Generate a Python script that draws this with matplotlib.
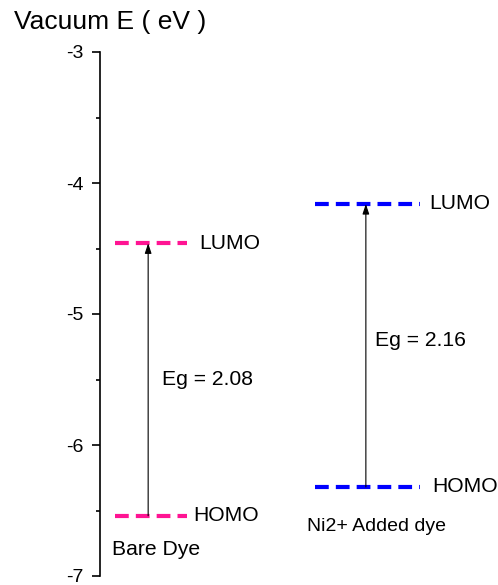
import numpy as np
import matplotlib.pyplot as plt
from matplotlib.ticker import MultipleLocator

plt.rcParams['font.family'] = ['Liberation Sans', 'DejaVu Sans']
plt.rcParams['axes.unicode_minus'] = False

# energy levels (eV vs vacuum)
dyes = ["Bare Dye", "Ni2+ Added dye"]
lumo = [-4.46, -4.16]
homo = [-6.54, -6.32]
gaps = [2.08, 2.16]
colors = ["#ff1493", "#0000ff"]

# horizontal extent of each level bar and arrow position (axis units)
x_start = [0.38, 5.40]
x_end = [2.19, 8.04]
x_arrow = [1.21, 6.68]

fs = 15.2

fig = plt.figure(figsize=(4.98, 5.85), dpi=100)
ax = fig.add_axes([100 / 498, 9 / 585, 398 / 498, 524 / 585])
ax.set_xlim(0, 10)
ax.set_ylim(-7, -3)

for i in range(len(dyes)):
    for e in (lumo[i], homo[i]):
        ax.plot([x_start[i], x_end[i]], [e, e], color=colors[i], lw=3,
                dashes=(3.3, 1.7), solid_capstyle='butt', dash_capstyle='butt')
    ax.annotate("", xy=(x_arrow[i], lumo[i]), xytext=(x_arrow[i], homo[i]),
                arrowprops=dict(arrowstyle='-|>,head_length=0.6,head_width=0.2',
                                color='black', lw=0.8, shrinkA=0, shrinkB=0))

# level labels
ax.text(x_end[0] + 0.3, lumo[0], "LUMO", fontsize=fs, va='center')
ax.text(x_end[0] + 0.15, homo[0], "HOMO", fontsize=fs, va='center')
ax.text(x_end[1] + 0.24, lumo[1], "LUMO", fontsize=fs, va='center')
ax.text(x_end[1] + 0.3, homo[1], "HOMO", fontsize=fs, va='center')

ax.text(0.3, -6.8, dyes[0], fontsize=fs, va='center')
ax.text(5.2, -6.62, dyes[1], fontsize=14, va='center')

ax.text(1.55, -5.5, "Eg = %.2f" % gaps[0], fontsize=fs, va='center')
ax.text(6.9, -5.2, "Eg = %.2f" % gaps[1], fontsize=fs, va='center')

for s in ('top', 'right', 'bottom'):
    ax.spines[s].set_visible(False)
ax.spines['left'].set_linewidth(1.2)
ax.set_xticks([])
ax.yaxis.set_major_locator(MultipleLocator(1))
ax.yaxis.set_minor_locator(MultipleLocator(0.5))
ax.tick_params(axis='y', which='major', direction='out', length=6, width=1.2,
               labelsize=14, pad=6)
ax.tick_params(axis='y', which='minor', direction='out', length=3, width=1.2)

fig.text(14 / 498, 1 - 22 / 585, "Vacuum E ( eV )", fontsize=19, va='center')

fig.savefig("out.png", dpi=100)
